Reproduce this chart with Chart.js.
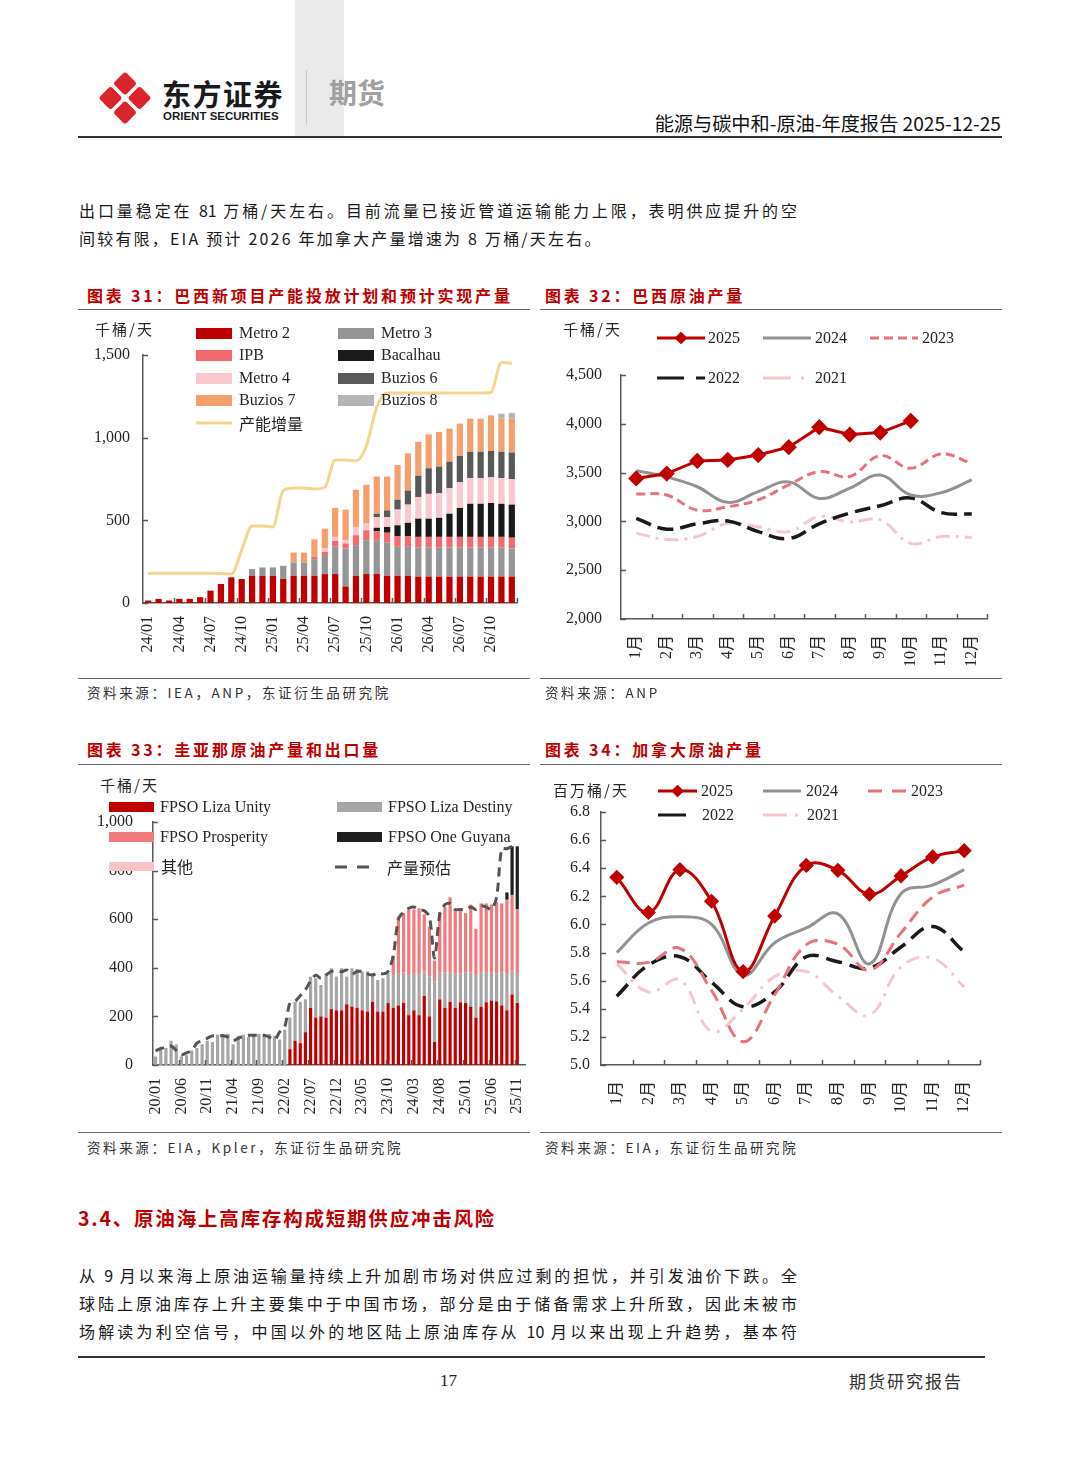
<!DOCTYPE html>
<html>
<head>
<meta charset="utf-8">
<script src="https://cdn.jsdelivr.net/npm/chart.js@4.4.1/dist/chart.umd.min.js"></script>
<style>
body { margin: 0; background: #fff; }
#page { position: relative; width: 1080px; height: 1466px; overflow: hidden; background: #fff;
        font-family: 'Noto Sans CJK SC', sans-serif; color: #1a1a1a; }
.abs { position: absolute; white-space: nowrap; }
.rule { position: absolute; height: 1px; background: #666; }
.cap { position: absolute; color: #C00000; font-weight: bold; font-size: 16px; letter-spacing: 2.8px;
       line-height: 20px; white-space: nowrap; }
.src { position: absolute; font-size: 13.5px; letter-spacing: 2.6px; color: #333; line-height: 18px; white-space: nowrap; }
.txt { position: absolute; left: 79px; font-size: 16px; line-height: 20px; color: #1a1a1a; }
.just { width: 718px; text-align: justify; text-align-last: justify; }
.unit { position: absolute; font-size: 15px; letter-spacing: 2px; color: #262626; line-height: 20px; white-space: nowrap; }
canvas { position: absolute; }
.lg { position: absolute; display: flex; align-items: center; height: 20px; white-space: nowrap;
      font-family: 'Liberation Serif', 'Noto Sans CJK SC', serif; font-size: 16px; color: #262626; }
</style>
</head>
<body>
<div id="page">
  <!-- header -->
  <div class="abs" style="left:295px;top:0;width:49px;height:137px;background:#EAEAEA"></div>
  <svg class="abs" style="left:97px;top:69px" width="56" height="58" viewBox="0 0 56 58">
    <rect x="-8.5" y="-8.5" width="17" height="17" rx="3" fill="#D9252B" transform="translate(28,14.5) rotate(45)"/>
    <rect x="-8.5" y="-8.5" width="17" height="17" rx="3" fill="#D9252B" transform="translate(28,43.5) rotate(45)"/>
    <rect x="-8.5" y="-8.5" width="17" height="17" rx="3" fill="#D9252B" transform="translate(13.5,29) rotate(45)"/>
    <rect x="-8.5" y="-8.5" width="17" height="17" rx="3" fill="#D9252B" transform="translate(42.5,29) rotate(45)"/>
  </svg>
  <div class="abs" style="left:162px;top:74px;font-size:29px;line-height:38px;font-weight:bold;letter-spacing:1.5px;color:#1a1a1a">东方证券</div>
  <div class="abs" style="left:163px;top:109px;font-family:'Liberation Sans',sans-serif;font-size:11.5px;line-height:14px;font-weight:bold;color:#1a1a1a">ORIENT SECURITIES</div>
  <div class="abs" style="left:306px;top:70px;width:1px;height:55px;background:#C8C8C8"></div>
  <div class="abs" style="left:329px;top:74px;font-size:28px;line-height:36px;font-weight:bold;color:#A0A0A0">期货</div>
  <div class="abs" style="right:79px;top:111px;font-size:19.2px;line-height:24px;color:#111">能源与碳中和-原油-年度报告 2025-12-25</div>
  <div class="abs" style="left:78px;top:136px;width:924px;height:2px;background:#333"></div>

  <!-- top paragraph -->
  <div class="txt just" style="top:200px">出口量稳定在 81 万桶/天左右。目前流量已接近管道运输能力上限，表明供应提升的空</div>
  <div class="txt" style="top:228px;letter-spacing:2.2px;white-space:nowrap">间较有限，EIA 预计 2026 年加拿大产量增速为 8 万桶/天左右。</div>

  <!-- captions row 1 -->
  <div class="cap" style="left:87px;top:285px">图表 31：巴西新项目产能投放计划和预计实现产量</div>
  <div class="cap" style="left:545px;top:285px">图表 32：巴西原油产量</div>
  <div class="rule" style="left:78px;top:309px;width:452px"></div>
  <div class="rule" style="left:540px;top:309px;width:462px"></div>

  <canvas id="c31" width="450" height="340" style="left:80px;top:330px"></canvas>
  <canvas id="c32" width="460" height="330" style="left:540px;top:355px"></canvas>

  <div class="unit" style="left:95px;top:319px">千桶/天</div>
  <div class="unit" style="left:563px;top:319px">千桶/天</div>

  <div class="rule" style="left:78px;top:678px;width:452px"></div>
  <div class="rule" style="left:540px;top:678px;width:462px"></div>
  <div class="src" style="left:87px;top:683px">资料来源：IEA，ANP，东证衍生品研究院</div>
  <div class="src" style="left:545px;top:683px">资料来源：ANP</div>

  <!-- captions row 2 -->
  <div class="cap" style="left:87px;top:739px">图表 33：圭亚那原油产量和出口量</div>
  <div class="cap" style="left:545px;top:739px">图表 34：加拿大原油产量</div>
  <div class="rule" style="left:78px;top:764px;width:452px"></div>
  <div class="rule" style="left:540px;top:764px;width:462px"></div>

  <canvas id="c33" width="450" height="330" style="left:80px;top:800px"></canvas>
  <canvas id="c34" width="460" height="350" style="left:540px;top:780px"></canvas>

  <div class="unit" style="left:100px;top:775px">千桶/天</div>
  <div class="unit" style="left:553px;top:780px">百万桶/天</div>

  <div class="rule" style="left:78px;top:1132px;width:452px"></div>
  <div class="rule" style="left:540px;top:1132px;width:462px"></div>
  <div class="src" style="left:87px;top:1138px">资料来源：EIA，Kpler，东证衍生品研究院</div>
  <div class="src" style="left:545px;top:1138px">资料来源：EIA，东证衍生品研究院</div>

  <!-- section -->
  <div class="abs" style="left:78px;top:1206px;font-size:19.5px;line-height:24px;font-weight:bold;color:#C00000;letter-spacing:1.8px">3.4、原油海上高库存构成短期供应冲击风险</div>
  <div class="txt just" style="top:1265px">从 9 月以来海上原油运输量持续上升加剧市场对供应过剩的担忧，并引发油价下跌。全</div>
  <div class="txt just" style="top:1293px">球陆上原油库存上升主要集中于中国市场，部分是由于储备需求上升所致，因此未被市</div>
  <div class="txt just" style="top:1321px">场解读为利空信号，中国以外的地区陆上原油库存从 10 月以来出现上升趋势，基本符</div>

  <!-- footer -->
  <div class="abs" style="left:78px;top:1356px;width:907px;height:1.5px;background:#333"></div>
  <div class="abs" style="left:440px;top:1370px;font-family:'Liberation Serif',serif;font-size:17px;line-height:22px;color:#222">17</div>
  <div class="abs" style="left:849px;top:1370px;font-size:17px;line-height:22px;letter-spacing:2px;color:#333">期货研究报告</div>
</div>

<script>
// ---------- 图表31 data ----------
const months31 = ['24/01','24/02','24/03','24/04','24/05','24/06','24/07','24/08','24/09','24/10','24/11','24/12',
                  '25/01','25/02','25/03','25/04','25/05','25/06','25/07','25/08','25/09','25/10','25/11','25/12',
                  '26/01','26/02','26/03','26/04','26/05','26/06','26/07','26/08','26/09','26/10','26/11','26/12'];
const metro2   = [15,25,15,25,25,35,75,115,155,145,165,165,165,145,165,165,165,175,175,100,165,175,175,165,165,165,160,160,160,160,160,160,160,160,160,160];
const metro3   = [0,0,0,0,0,0,0,0,0,0,40,50,50,80,80,80,100,115,165,230,185,205,205,200,175,175,175,175,175,175,175,175,175,175,175,170];
const ipb      = [0,0,0,0,0,0,0,0,0,0,0,0,0,0,0,0,15,20,35,30,60,60,55,60,65,65,65,65,65,65,65,65,65,65,65,65];
const bacalhau = [0,0,0,0,0,0,0,0,0,0,0,0,0,0,0,0,0,0,0,0,0,0,20,35,65,80,110,110,115,140,175,200,200,205,200,200];
const metro4   = [0,0,0,0,0,0,0,0,0,0,0,0,0,0,0,0,0,20,25,20,50,40,65,60,95,110,130,150,150,155,155,155,155,155,155,155];
const buzios6  = [0,0,0,0,0,0,0,0,0,0,0,0,0,0,0,0,0,0,0,0,0,0,20,40,60,85,130,155,160,160,160,160,160,160,160,160];
const buzios7  = [0,0,0,0,0,0,0,0,0,0,0,0,0,0,60,60,105,120,175,185,225,235,225,205,210,225,205,205,210,200,195,200,200,215,200,205];
const buzios8  = [0,0,0,0,0,0,0,0,0,0,0,0,0,0,0,0,0,0,0,0,0,0,0,0,0,0,0,0,0,0,0,0,0,0,30,35];
const capacity31 = [180,180,180,180,180,180,180,178,175,320,465,465,460,680,695,695,690,700,865,865,860,950,1185,1270,
                    1270,1270,1270,1270,1270,1270,1270,1270,1270,1275,1455,1450];
const yTicks31 = [0, 1500, 500];   // min, max, step

// ---------- 图表32 data ----------
const monthNames = ['1月','2月','3月','4月','5月','6月','7月','8月','9月','10月','11月','12月'];
const br2025 = [3440,3490,3620,3630,3680,3760,3965,3890,3910,4030,null,null];
const br2024 = [3520,3455,3355,3195,3305,3405,3235,3340,3475,3270,3295,3425];
const br2023 = [3280,3270,3115,3150,3220,3375,3510,3460,3675,3545,3690,3595];
const br2022 = [3030,2920,2975,3005,2895,2825,2975,3085,3160,3240,3090,3075];
const br2021 = [2880,2815,2845,2980,2945,2895,3050,2995,3015,2775,2845,2835];
const yTicks32 = [2000, 4500, 500];

// ---------- 图表33 data ----------
const months33 = ['20/01','20/02','20/03','20/04','20/05','20/06','20/07','20/08','20/09','20/10','20/11','20/12',
                  '21/01','21/02','21/03','21/04','21/05','21/06','21/07','21/08','21/09','21/10','21/11','21/12',
                  '22/01','22/02','22/03','22/04','22/05','22/06','22/07','22/08','22/09','22/10','22/11','22/12',
                  '23/01','23/02','23/03','23/04','23/05','23/06','23/07','23/08','23/09','23/10','23/11','23/12',
                  '24/01','24/02','24/03','24/04','24/05','24/06','24/07','24/08','24/09','24/10','24/11','24/12',
                  '25/01','25/02','25/03','25/04','25/05','25/06','25/07','25/08','25/09','25/10','25/11','25/12'];
const lizaUnity = [0,0,0,0,0,0,0,0,0,0,0,0,
                   0,0,0,0,0,0,0,0,0,0,0,0,
                   0,0,65,100,90,135,235,195,200,195,230,225,
                   225,250,240,235,225,220,260,220,220,255,235,245,
                   255,205,225,205,285,200,95,270,235,260,235,258,
                   255,240,195,240,258,265,262,245,225,290,255,null];
const lizaDestiny = [35,70,70,100,85,35,40,60,70,85,100,95,
                     125,128,128,85,120,125,115,128,128,128,128,120,
                     105,145,130,160,170,135,128,162,129,182,168,139,
                     173,114,158,160,160,165,117,130,137,122,135,130,
                     125,165,150,170,100,165,250,110,145,120,140,120,
                     125,140,175,140,125,115,115,135,150,100,120,null];
const prosperity = [0,0,0,0,0,0,0,0,0,0,0,0,
                    0,0,0,0,0,0,0,0,0,0,0,0,
                    0,0,0,0,0,0,0,0,0,0,0,0,
                    0,0,0,0,0,0,0,0,0,0,80,235,
                    245,270,265,270,235,205,85,250,270,310,265,257,
                    245,280,190,285,282,280,293,285,305,310,265,null];
const oneGuyana = [0,0,0,0,0,0,0,0,0,0,0,0,
                   0,0,0,0,0,0,0,0,0,0,0,0,
                   0,0,0,0,0,0,0,0,0,0,0,0,
                   0,0,0,0,0,0,0,0,0,0,0,0,
                   0,0,0,0,0,0,0,0,0,0,0,0,
                   0,0,0,0,0,0,0,0,30,200,260,null];
const others33 = [0,0,0,0,0,0,0,0,0,0,0,0,
                  0,0,0,0,0,0,0,0,0,0,0,0,
                  0,0,0,0,0,0,0,0,0,0,0,0,
                  0,0,0,0,0,0,0,0,0,0,0,0,
                  0,0,0,0,0,0,0,0,0,0,0,0,
                  0,0,0,0,0,0,0,0,0,0,0,null];
const forecast33 = [58,68,72,78,60,42,50,60,90,100,110,120,
                    120,120,115,100,110,118,122,122,122,122,115,103,
                    135,158,255,262,285,310,345,370,357,370,385,388,
                    384,391,375,385,385,375,370,380,375,385,450,600,
                    630,645,650,640,635,610,440,620,660,665,640,640,
                    640,650,640,655,650,640,690,890,890,900,905,null];
const yTicks33 = [0, 1000, 200];

// ---------- 图表34 data ----------
const ca2025 = [6.335,6.085,6.39,6.165,5.665,6.06,6.42,6.385,6.215,6.345,6.48,6.525];
const ca2024 = [5.80,6.01,6.055,6.0,5.64,5.87,5.975,6.075,5.72,6.22,6.28,6.39];
const ca2023 = [5.735,5.73,5.83,5.53,5.165,5.50,5.855,5.86,5.675,5.94,6.195,6.28];
const ca2022 = [5.49,5.71,5.77,5.59,5.415,5.52,5.77,5.735,5.69,5.84,5.985,5.805];
const ca2021 = [5.72,5.52,5.605,5.24,5.40,5.63,5.665,5.49,5.355,5.70,5.76,5.555];
const yTicks34 = [5.0, 6.8, 0.2];

// ---------- styling ----------
const FONT = "'Liberation Serif','Noto Sans CJK SC',serif";
const AXIS = '#595959';
const RED = '#C00000';
Chart.defaults.font.family = FONT;
Chart.defaults.font.size = 16;
Chart.defaults.color = '#262626';
Chart.defaults.animation = false;
Chart.defaults.plugins.legend.display = false;
Chart.defaults.plugins.tooltip.enabled = false;

// short tick marks drawn inside the plot, like the original
const innerTicks = {
  id: 'innerTicks',
  afterDatasetsDraw(chart, args, o) {
    const { ctx, chartArea: a, scales: { x, y } } = chart;
    ctx.save();
    ctx.strokeStyle = AXIS;
    ctx.lineWidth = 1.5;
    ctx.beginPath();
    y.ticks.forEach(t => {
      const py = Math.round(y.getPixelForValue(t.value)) + 0.5;
      ctx.moveTo(a.left, py);
      ctx.lineTo(a.left + o.len, py);
    });
    const n = x.ticks.length;
    const half = (x.getPixelForValue(1) - x.getPixelForValue(0)) / 2;
    for (let k = o.step; k <= n; k += o.step) {
      const px = Math.round(x.getPixelForValue(k - 1) + half) + 0.5;
      ctx.moveTo(px, a.bottom);
      ctx.lineTo(px, a.bottom - o.len);
    }
    ctx.stroke();
    ctx.restore();
  }
};

const fitX = h => s => { s.height = h; s.paddingLeft = 0; s.paddingRight = 0; };
const fitY = w => s => { s.width = w; s.paddingTop = 0; s.paddingBottom = 0; };

function xAxis(h, pad, every, extra) {
  return Object.assign({
    grid: { display: false, drawTicks: false },
    border: { color: AXIS, width: 1.5 },
    ticks: {
      autoSkip: false, maxRotation: 90, minRotation: 90, padding: pad, color: '#262626',
      callback: function (v, i) { return i % every === 0 ? this.getLabelForValue(v) : ''; }
    },
    afterFit: fitX(h)
  }, extra || {});
}
function yAxis(w, pad, t, fmt, extra) {
  return Object.assign({
    min: t[0], max: t[1],
    grid: { display: false, drawTicks: false },
    border: { color: AXIS, width: 1.5 },
    ticks: { stepSize: t[2], padding: pad, color: '#262626', callback: fmt },
    afterFit: fitY(w)
  }, extra || {});
}
const comma = v => v.toLocaleString('en-US');

// ---------- 图表31 ----------
const bar31 = { order: 1, barPercentage: 0.6, categoryPercentage: 1 };
new Chart(document.getElementById('c31'), {
  type: 'bar',
  data: {
    labels: months31,
    datasets: [
      { type: 'line', label: '产能增量', data: capacity31, borderColor: '#F5D48C', borderWidth: 3,
        pointRadius: 0, cubicInterpolationMode: 'monotone', order: 0 },
      Object.assign({ label: 'Metro 2', data: metro2, backgroundColor: '#C00000' }, bar31),
      Object.assign({ label: 'Metro 3', data: metro3, backgroundColor: '#959595' }, bar31),
      Object.assign({ label: 'IPB', data: ipb, backgroundColor: '#F06A6E' }, bar31),
      Object.assign({ label: 'Bacalhau', data: bacalhau, backgroundColor: '#1A1A1A' }, bar31),
      Object.assign({ label: 'Metro 4', data: metro4, backgroundColor: '#F8C8CE' }, bar31),
      Object.assign({ label: 'Buzios 6', data: buzios6, backgroundColor: '#595959' }, bar31),
      Object.assign({ label: 'Buzios 7', data: buzios7, backgroundColor: '#F4A06E' }, bar31),
      Object.assign({ label: 'Buzios 8', data: buzios8, backgroundColor: '#B4B4B4' }, bar31)
    ]
  },
  options: {
    responsive: false,
    layout: { padding: { top: 25, right: 13, left: 0, bottom: 0 } },
    scales: {
      x: xAxis(67, 13, 3, { stacked: true }),
      y: yAxis(63, 13, yTicks31, comma, { stacked: true })
    },
    plugins: { innerTicks: { len: 5, step: 3 } }
  },
  plugins: [innerTicks]
});

// ---------- 图表32 ----------
const line = (label, data, color, dash, extra) => Object.assign({
  label, data, borderColor: color, backgroundColor: color, borderWidth: 3,
  borderDash: dash, pointRadius: 0, tension: 0.4, spanGaps: false
}, extra || {});
new Chart(document.getElementById('c32'), {
  type: 'line',
  data: {
    labels: monthNames,
    datasets: [
      line('2025', br2025, RED, [], { tension: 0, pointStyle: 'rectRot', pointRadius: 6 }),
      line('2024', br2024, '#929292', []),
      line('2023', br2023, '#E8737A', [9, 5]),
      line('2022', br2022, '#1A1A1A', [16, 7], { borderWidth: 3.5 }),
      line('2021', br2021, '#F5C6CB', [14, 6, 3, 6])
    ]
  },
  options: {
    responsive: false,
    layout: { padding: { top: 20, right: 13, left: 0, bottom: 0 } },
    scales: {
      x: xAxis(66, 16, 1, { offset: true }),
      y: yAxis(81, 19, yTicks32, comma)
    },
    plugins: { innerTicks: { len: 5, step: 1 } }
  },
  plugins: [innerTicks]
});

// ---------- 图表33 ----------
const bar33 = { order: 1, barPercentage: 0.62, categoryPercentage: 1 };
new Chart(document.getElementById('c33'), {
  type: 'bar',
  data: {
    labels: months33,
    datasets: [
      { type: 'line', label: '产量预估', data: forecast33, borderColor: '#555555', borderWidth: 3,
        borderDash: [9, 6], pointRadius: 0, tension: 0.3, order: 0 },
      Object.assign({ label: 'FPSO Liza Unity', data: lizaUnity, backgroundColor: '#C00000' }, bar33),
      Object.assign({ label: 'FPSO Liza Destiny', data: lizaDestiny, backgroundColor: '#A6A6A6' }, bar33),
      Object.assign({ label: 'FPSO Prosperity', data: prosperity, backgroundColor: '#F07A7E' }, bar33),
      Object.assign({ label: 'FPSO One Guyana', data: oneGuyana, backgroundColor: '#1F1F1F' }, bar33),
      Object.assign({ label: '其他', data: others33, backgroundColor: '#F8C4C8' }, bar33)
    ]
  },
  options: {
    responsive: false,
    layout: { padding: { top: 22, right: 5, left: 0, bottom: 0 } },
    scales: {
      x: xAxis(65, 13, 5, { stacked: true }),
      y: yAxis(73, 20, yTicks33, comma, { stacked: true })
    },
    plugins: { innerTicks: { len: 5, step: 5 } }
  },
  plugins: [innerTicks]
});

// ---------- 图表34 ----------
new Chart(document.getElementById('c34'), {
  type: 'line',
  data: {
    labels: monthNames,
    datasets: [
      line('2025', ca2025, RED, [], { pointStyle: 'rectRot', pointRadius: 5.5 }),
      line('2024', ca2024, '#929292', []),
      line('2023', ca2023, '#E8737A', [13, 7]),
      line('2022', ca2022, '#1A1A1A', [16, 8], { borderWidth: 3.5 }),
      line('2021', ca2021, '#F5C6CB', [14, 7, 3, 7])
    ]
  },
  options: {
    responsive: false,
    layout: { padding: { top: 32, right: 20, left: 0, bottom: 0 } },
    scales: {
      x: xAxis(65, 16, 1, { offset: true }),
      y: yAxis(61, 11, yTicks34, v => v.toFixed(1))
    },
    plugins: { innerTicks: { len: 5, step: 1 } }
  },
  plugins: [innerTicks]
});

// ---------- legends (placed over the plots like the original) ----------
function addLegend(items) {
  const page = document.getElementById('page');
  items.forEach(it => {
    const d = document.createElement('div');
    d.className = 'lg';
    d.style.left = it.x + 'px';
    d.style.top = (it.y - 10) + 'px';
    let sw;
    if (it.box) {
      sw = `<span style="display:inline-block;width:${it.w}px;height:${it.h}px;background:${it.color};margin-right:${it.gap}px"></span>`;
    } else {
      const dash = it.dash ? `stroke-dasharray="${it.dash}"` : '';
      const mk = it.diamond
        ? `<rect x="${it.w / 2 - 4.5}" y="1.5" width="9" height="9" fill="${it.color}" transform="rotate(45 ${it.w / 2} 6)"/>` : '';
      sw = `<svg width="${it.w}" height="12" style="margin-right:${it.gap}px"><line x1="0" y1="6" x2="${it.w}" y2="6" stroke="${it.color}" stroke-width="3" ${dash}/>${mk}</svg>`;
    }
    d.innerHTML = sw + '<span>' + it.text + '</span>';
    page.appendChild(d);
  });
}

addLegend([
  { x: 196, y: 333, box: 1, w: 36, h: 11, gap: 7, color: '#C00000', text: 'Metro 2' },
  { x: 338, y: 333, box: 1, w: 36, h: 11, gap: 7, color: '#959595', text: 'Metro 3' },
  { x: 196, y: 355, box: 1, w: 36, h: 11, gap: 7, color: '#F06A6E', text: 'IPB' },
  { x: 338, y: 355, box: 1, w: 36, h: 11, gap: 7, color: '#1A1A1A', text: 'Bacalhau' },
  { x: 196, y: 378, box: 1, w: 36, h: 11, gap: 7, color: '#F8C8CE', text: 'Metro 4' },
  { x: 338, y: 378, box: 1, w: 36, h: 11, gap: 7, color: '#595959', text: 'Buzios 6' },
  { x: 196, y: 400, box: 1, w: 36, h: 11, gap: 7, color: '#F4A06E', text: 'Buzios 7' },
  { x: 338, y: 400, box: 1, w: 36, h: 11, gap: 7, color: '#B4B4B4', text: 'Buzios 8' },
  { x: 196, y: 423, w: 36, gap: 7, color: '#F5D48C', text: '产能增量' },

  { x: 657, y: 338, w: 48, gap: 3, color: RED, diamond: 1, text: '2025' },
  { x: 763, y: 338, w: 48, gap: 4, color: '#929292', text: '2024' },
  { x: 870, y: 338, w: 48, gap: 4, color: '#E8737A', dash: '9 5', text: '2023' },
  { x: 657, y: 378, w: 48, gap: 3, color: '#1A1A1A', dash: '27 12 9 0', text: '2022' },
  { x: 763, y: 378, w: 48, gap: 4, color: '#F5C6CB', dash: '28 10 3 20', text: '2021' },

  { x: 109, y: 807, box: 1, w: 45, h: 10, gap: 6, color: '#C00000', text: 'FPSO Liza Unity' },
  { x: 337, y: 807, box: 1, w: 45, h: 10, gap: 6, color: '#A6A6A6', text: 'FPSO Liza Destiny' },
  { x: 109, y: 837, box: 1, w: 45, h: 10, gap: 6, color: '#F07A7E', text: 'FPSO Prosperity' },
  { x: 337, y: 837, box: 1, w: 45, h: 10, gap: 6, color: '#1F1F1F', text: 'FPSO One Guyana' },
  { x: 109, y: 866, box: 1, w: 45, h: 9, gap: 7, color: '#F8C4C8', text: '其他' },
  { x: 335, y: 867, w: 38, gap: 14, color: '#555555', dash: '12 10', text: '产量预估' },

  { x: 658, y: 791, w: 39, gap: 4, color: RED, diamond: 1, text: '2025' },
  { x: 763, y: 791, w: 38, gap: 5, color: '#929292', text: '2024' },
  { x: 868, y: 791, w: 38, gap: 5, color: '#E8737A', dash: '14 10', text: '2023' },
  { x: 658, y: 815, w: 28, gap: 16, color: '#1A1A1A', text: '2022' },
  { x: 763, y: 815, w: 36, gap: 8, color: '#F5C6CB', dash: '24 8 3 10', text: '2021' }
]);
</script>
</body>
</html>
